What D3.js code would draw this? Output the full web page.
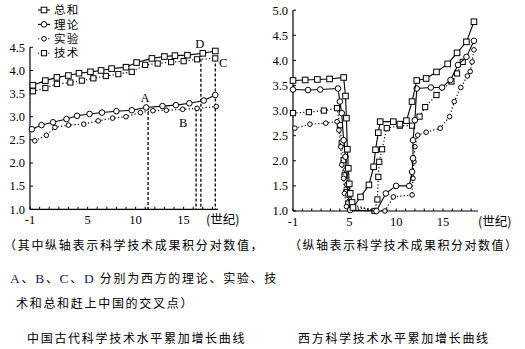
<!DOCTYPE html>
<html>
<head>
<meta charset="utf-8">
<script src="https://cdn.jsdelivr.net/npm/d3@7/dist/d3.min.js"></script>
<style>
  html, body { margin: 0; padding: 0; background: #fff; }
  svg { display: block; }
  .num { font-family: "Liberation Serif", "Times New Roman", serif; font-size: 12.5px; }
  .cjk { font-family: "Noto Sans CJK SC", sans-serif; }
</style>
</head>
<body>
<svg id="chart" width="525" height="349"></svg>
<script>
// ---- axis ticks ----
const yTicksLeft = [1.0, 1.5, 2.0, 2.5, 3.0, 3.5, 4.0, 4.5];
const yTicksRight = [1.0, 1.5, 2.0, 2.5, 3.0, 3.5, 4.0, 4.5, 5.0];
const xTickLabels = [-1, 5, 10, 15];
const minorCenturies = d3.range(-1, 19);

// ---- China: century positions and log-scale values ----
const cnTotalX = [-0.7, 0.6, 1.8, 3.0, 4.1, 5.3, 6.4, 7.5, 9.0, 10.1, 11.7, 13.0, 14.1, 15.4, 17.0, 18.3];
const cnTotalY = [3.68, 3.78, 3.85, 3.89, 3.94, 3.97, 4.00, 4.04, 4.07, 4.17, 4.26, 4.30, 4.32, 4.33, 4.37, 4.42];
const cnTheoryX = [-0.8, 0.2, 1.4, 2.8, 3.9, 5.2, 6.5, 8.0, 9.6, 11.1, 12.8, 14.2, 15.6, 17.1, 18.3];
const cnTheoryY = [2.73, 2.82, 2.88, 2.95, 3.02, 3.06, 3.09, 3.12, 3.14, 3.20, 3.23, 3.25, 3.29, 3.35, 3.47];
const cnExperX = [-0.5, 0.7, 1.6, 3.0, 4.6, 6.1, 7.6, 9.0, 10.5, 11.8, 13.2, 14.9, 16.4, 18.4];
const cnExperY = [2.48, 2.60, 2.77, 2.82, 2.84, 2.91, 2.97, 3.00, 3.09, 3.13, 3.14, 3.16, 3.18, 3.22];
const cnTechX = [-0.7, 0.6, 1.8, 3.2, 4.4, 5.6, 6.9, 8.2, 9.6, 11.0, 12.3, 13.7, 15.0, 16.4, 18.3];
const cnTechY = [3.55, 3.62, 3.71, 3.74, 3.78, 3.83, 3.88, 3.92, 3.97, 4.12, 4.15, 4.18, 4.20, 4.24, 4.26];

// crossing points A-D (century, value where the dashed line starts)
const crossNames = ["A", "B", "C", "D"];
const crossX = [11.3, 16.3, 18.3, 16.8];
const crossY = [3.21, 3.18, 4.26, 4.36];

// ---- West ----
const wTotalX = [-1.0, 0.3, 1.6, 2.9, 4.4, 4.6, 4.7, 4.8, 4.9, 5.0, 5.1, 5.3, 5.4, 6.2, 7.1, 7.6, 7.8, 8.1, 8.3, 9.7, 10.4, 11.1, 11.7, 12.2, 13.2, 14.3, 15.5, 16.5, 17.5, 18.3];
const wTotalY = [3.60, 3.61, 3.62, 3.63, 3.66, 3.29, 2.85, 2.23, 1.85, 1.54, 1.35, 1.17, 1.07, 1.28, 1.52, 1.88, 2.22, 2.56, 2.78, 2.78, 2.73, 2.80, 3.18, 3.60, 3.64, 3.77, 3.93, 4.15, 4.37, 4.77];
const wTheoryX = [-1.0, 0.6, 1.9, 3.8, 4.0, 4.2, 4.4, 4.6, 4.7, 4.8, 4.9, 5.1, 7.9, 8.9, 10.0, 11.4, 11.7, 11.8, 11.8, 12.0, 12.2, 13.7, 14.9, 15.8, 16.6, 17.5, 18.3];
const wTheoryY = [3.42, 3.41, 3.42, 3.44, 3.18, 2.95, 2.41, 2.08, 1.82, 1.52, 1.32, 1.02, 1.00, 1.35, 1.50, 1.50, 1.78, 2.05, 2.41, 2.81, 3.44, 3.46, 3.46, 3.61, 3.91, 4.07, 4.39];
const wExperX = [-0.8, 0.8, 2.5, 3.7, 3.9, 4.1, 4.2, 4.4, 4.5, 4.7, 8.8, 9.7, 11.7, 11.8, 11.9, 12.0, 12.3, 13.2, 14.7, 15.7, 16.2, 16.9, 17.6, 17.9, 18.1, 18.3];
const wExperY = [2.65, 2.73, 2.75, 2.78, 2.61, 2.28, 1.92, 1.65, 1.35, 1.09, 1.00, 1.28, 1.32, 1.65, 1.98, 2.28, 2.51, 2.57, 2.65, 2.88, 3.18, 3.46, 3.69, 3.78, 3.97, 4.21];
const wTechX = [-1.0, 0.7, 2.3, 3.7, 4.0, 4.2, 4.4, 4.5, 4.7, 4.9, 7.7, 8.0, 8.1, 8.2, 8.5, 9.0, 10.4, 11.7, 12.5, 13.1, 14.3, 15.9, 16.5, 17.1];
const wTechY = [2.95, 2.97, 3.00, 3.05, 2.71, 2.35, 2.01, 1.71, 1.38, 1.15, 1.00, 1.23, 1.68, 1.98, 2.23, 2.65, 2.70, 2.70, 2.88, 3.07, 3.31, 3.58, 3.74, 3.97, 4.15];

// legend entries
const legendNames = ["总和", "理论", "实验", "技术"];

const svg = d3.select("#chart");

// ---- scales ----
const xL = d3.scaleLinear().domain([-1, 15]).range([30, 183.6]);
const yL = d3.scaleLinear().domain([1, 4.5]).range([209.3, 47.3]);
const xR = d3.scaleLinear().domain([-1, 15]).range([293, 443]);
const yR = d3.scaleLinear().domain([1, 5]).range([211, 10.2]);

const styles = {
  total:  { dash: null,      marker: "square", r: 2.8 },
  theory: { dash: null,      marker: "circle", r: 2.8 },
  exper:  { dash: "1.2,2.2", marker: "circle", r: 2.3 },
  tech:   { dash: "1.2,2.2", marker: "square", r: 2.6 }
};

function drawAxes(g, x, y, yTicks, xEnd, unitX) {
  const [x0] = x.range();
  const y0 = y(1);
  // y axis
  g.append("line").attr("x1", x0).attr("x2", x0).attr("y1", y0).attr("y2", y(yTicks[yTicks.length - 1]))
    .attr("stroke", "#000").attr("stroke-width", 1.2);
  g.selectAll(".yt").data(yTicks).join("line")
    .attr("x1", x0).attr("x2", x0 + 3).attr("y1", d => y(d)).attr("y2", d => y(d))
    .attr("stroke", "#000").attr("stroke-width", 1);
  g.selectAll(".yl").data(yTicks).join("text").attr("class", "num")
    .attr("x", x0 - 5).attr("y", d => y(d) + 4.3).attr("text-anchor", "end")
    .text(d => d.toFixed(1));
  // x axis
  g.append("line").attr("x1", x0).attr("x2", xEnd).attr("y1", y0).attr("y2", y0)
    .attr("stroke", "#000").attr("stroke-width", 1.2);
  g.selectAll(".xt").data(minorCenturies).join("line")
    .attr("x1", d => x(d)).attr("x2", d => x(d)).attr("y1", y0).attr("y2", y0 - 2.5)
    .attr("stroke", "#000").attr("stroke-width", 1);
  g.selectAll(".xl").data(xTickLabels).join("text").attr("class", "num")
    .attr("x", d => x(d)).attr("y", y0 + 15).attr("text-anchor", "middle")
    .text(d => d);
  g.append("text").attr("class", "cjk").attr("font-size", 12.5)
    .attr("x", unitX).attr("y", y0 + 15).text("(世纪)");
}

function drawSeries(g, x, y, xs, ys, st) {
  const pts = xs.map((c, i) => [x(c), y(ys[i])]);
  g.append("path").attr("d", d3.line()(pts)).attr("fill", "none")
    .attr("stroke", "#000").attr("stroke-width", st.dash ? 1.2 : 1.1)
    .attr("stroke-dasharray", st.dash);
  drawMarkers(g, pts, st);
}

function drawMarkers(g, pts, st) {
  if (st.marker === "circle") {
    g.selectAll(null).data(pts).join("circle")
      .attr("cx", d => d[0]).attr("cy", d => d[1]).attr("r", st.r)
      .attr("fill", "#fff").attr("stroke", "#000").attr("stroke-width", 1);
  } else {
    g.selectAll(null).data(pts).join("rect")
      .attr("x", d => d[0] - st.r).attr("y", d => d[1] - st.r)
      .attr("width", st.r * 2).attr("height", st.r * 2)
      .attr("fill", "#fff").attr("stroke", "#000").attr("stroke-width", 1);
  }
}

// ---- left panel: China ----
const gL = svg.append("g");
drawAxes(gL, xL, yL, yTicksLeft, 218, 206);

// dashed drop lines at crossing points
gL.selectAll(".drop").data(crossX).join("line")
  .attr("x1", d => xL(d)).attr("x2", d => xL(d))
  .attr("y1", (d, i) => yL(crossY[i])).attr("y2", yL(1))
  .attr("stroke", "#000").attr("stroke-width", 1.3).attr("stroke-dasharray", "3,2");

drawSeries(gL, xL, yL, cnTechX, cnTechY, styles.tech);
drawSeries(gL, xL, yL, cnTotalX, cnTotalY, styles.total);
drawSeries(gL, xL, yL, cnExperX, cnExperY, styles.exper);
drawSeries(gL, xL, yL, cnTheoryX, cnTheoryY, styles.theory);

// crossing labels
const crossLabelOffset = { A: [-3, -5], B: [-13, 19], C: [8, 9], D: [-1, -6] };
gL.selectAll(".cross").data(crossNames).join("text").attr("class", "num")
  .attr("font-size", 13)
  .attr("x", (d, i) => xL(crossX[i]) + crossLabelOffset[d][0])
  .attr("y", (d, i) => yL(crossY[i]) + crossLabelOffset[d][1])
  .attr("text-anchor", "middle").text(d => d);

// legend
const legendStyles = [styles.total, styles.theory, styles.exper, styles.tech];
const lg = gL.append("g");
legendNames.forEach((name, i) => {
  const ly = 10 + i * 14.4;
  lg.append("line").attr("x1", 38).attr("x2", 50).attr("y1", ly).attr("y2", ly)
    .attr("stroke", "#000").attr("stroke-width", 1.1)
    .attr("stroke-dasharray", legendStyles[i].dash);
  drawMarkers(lg, [[44, ly]], legendStyles[i]);
  lg.append("text").attr("class", "cjk").attr("font-size", 11.5)
    .attr("x", 54).attr("y", ly + 4.1).attr("letter-spacing", 1.3).text(name);
});

// ---- right panel: West ----
const gR = svg.append("g");
drawAxes(gR, xR, yR, yTicksRight, 478, 478);
drawSeries(gR, xR, yR, wTechX, wTechY, styles.tech);
drawSeries(gR, xR, yR, wExperX, wExperY, styles.exper);
drawSeries(gR, xR, yR, wTheoryX, wTheoryY, styles.theory);
drawSeries(gR, xR, yR, wTotalX, wTotalY, styles.total);

// ---- captions ----
const captions = [
  { t: "（其中纵轴表示科学技术成果积分对数值，", x: 4, y: 250, ls: 1.7 },
  { t: "（纵轴表示科学技术成果积分对数值）", x: 289, y: 250, ls: 1.5 },
  { t: "术和总和赶上中国的交叉点）", x: 16, y: 308, ls: 1.7 },
  { t: "中国古代科学技术水平累加增长曲线", x: 27, y: 343, ls: 1.7 },
  { t: "西方科学技术水平累加增长曲线", x: 298, y: 343, ls: 1.7 }
];
svg.selectAll(".cap").data(captions).join("text").attr("class", "cjk")
  .attr("font-size", 12).attr("letter-spacing", d => d.ls)
  .attr("x", d => d.x).attr("y", d => d.y).text(d => d.t);

// second caption line: crossing letters set in a serif face
const cap2 = svg.append("text").attr("class", "cjk").attr("font-size", 12)
  .attr("x", 10).attr("y", 283);
["A", "、", "B", "、", "C", "、", "D", " 分别为西方的理论、实验、技"].forEach(s => {
  const isLetter = /^[A-D]$/.test(s);
  cap2.append("tspan")
    .attr("font-family", isLetter ? "Liberation Serif, serif" : null)
    .attr("font-size", isLetter ? 13.5 : null)
    .attr("fill", isLetter ? "#1a1a5a" : null)
    .attr("letter-spacing", 1.7)
    .text(s);
});
</script>
</body>
</html>
